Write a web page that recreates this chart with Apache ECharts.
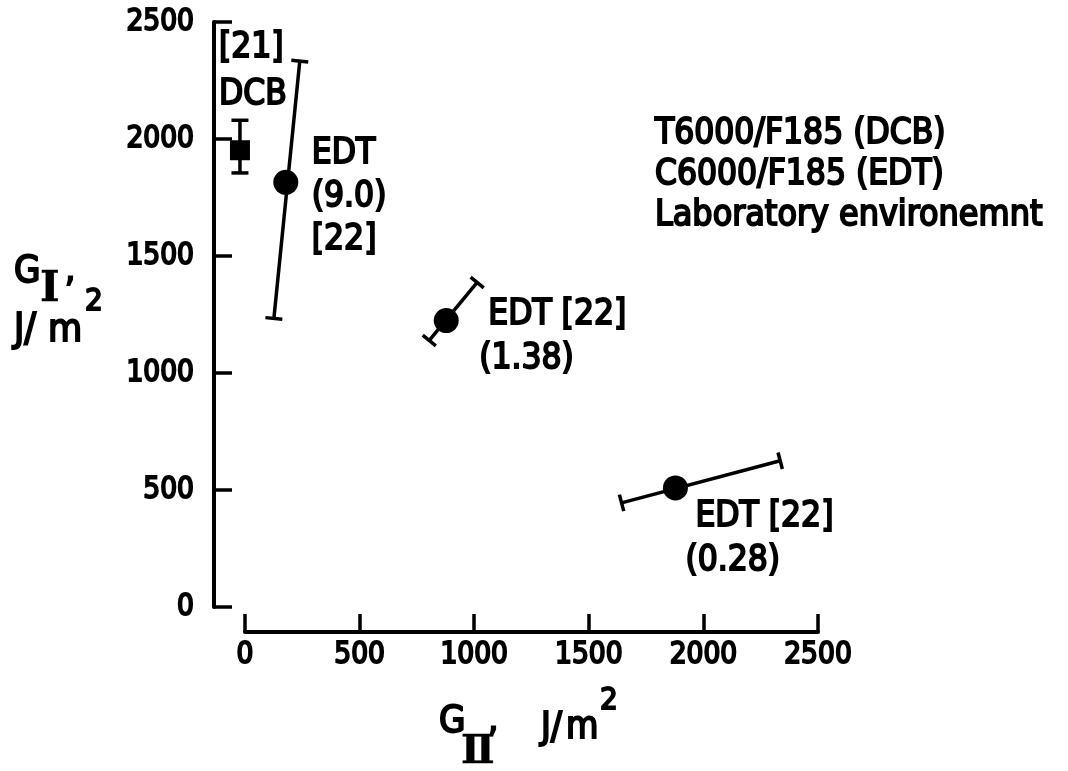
<!DOCTYPE html>
<html><head><meta charset="utf-8">
<script src="https://cdn.jsdelivr.net/npm/echarts@6/dist/echarts.min.js"></script>
<style>html,body{margin:0;padding:0;background:#fff}#c{width:1068px;height:771px}</style>
</head><body><div id="c"></div>
<script>
// ---- data ----
const pointNames = ['DCB [21]', 'EDT (9.0) [22]', 'EDT (1.38) [22]', 'EDT (0.28) [22]'];
const labelLines = [['[21]', 'DCB'], ['EDT', '(9.0)', '[22]'], ['EDT [22]', '(1.38)'], ['EDT [22]', '(0.28)']];
const markerShapes = ['rect', 'circle', 'circle', 'circle'];
const giiValues = [-22, 178, 878, 1878];      // G_II, J/m^2
const giValues = [1952, 1815, 1224, 509];     // G_I, J/m^2
const errLowGII = [-22, 126, 804, 1643];
const errLowGI = [1855, 1233, 1139, 445];
const errHighGII = [-22, 239, 1013, 2335];
const errHighGI = [2080, 2333, 1387, 625];
const axisTickValues = [0, 500, 1000, 1500, 2000, 2500];
const noteLines = ['T6000/F185 (DCB)', 'C6000/F185 (EDT)', 'Laboratory environemnt'];

// ---- styling (not data) ----
const TXT = 'DejaVu Sans Condensed';
const SERIF = 'DejaVu Serif';
const labelStyles = [
  {offset: [-21, -126], lineHeight: 47, pad: [0, 0]},
  {offset: [26, -50], lineHeight: 43, pad: [0, 0, 0]},
  {offset: [33, -28], lineHeight: 44, pad: [9, 0]},
  {offset: [10, 7], lineHeight: 44, pad: [10, 0]}
];
const BORDER = 1.9;

const chart = echarts.init(document.getElementById('c'), null, {renderer: 'canvas'});

const scatterData = giiValues.map((x, i) => {
  const st = labelStyles[i];
  const rich = {};
  const parts = labelLines[i].map((t, k) => {
    rich['l' + k] = {padding: [0, 0, 0, st.pad[k] || 0], lineHeight: st.lineHeight,
      fontFamily: TXT, fontSize: 35, color: '#000', textBorderColor: '#000', textBorderWidth: BORDER};
    return '{l' + k + '|' + t + '}';
  });
  return {
    value: [x, giValues[i]],
    name: pointNames[i],
    symbol: markerShapes[i],
    symbolSize: markerShapes[i] === 'rect' ? 20 : 25,
    label: {
      show: true, position: 'inside', align: 'left', verticalAlign: 'top',
      offset: st.offset, formatter: parts.join('\n'), rich: rich,
      lineHeight: st.lineHeight
    }
  };
});

const errData = giiValues.map((_, i) => [errLowGII[i], errLowGI[i], errHighGII[i], errHighGI[i]]);

function renderErr(params, api) {
  const p0 = api.coord([api.value(0), api.value(1)]);
  const p1 = api.coord([api.value(2), api.value(3)]);
  const dx = p1[0] - p0[0], dy = p1[1] - p0[1];
  const len = Math.sqrt(dx * dx + dy * dy) || 1;
  const nx = -dy / len, ny = dx / len, h = 8.5;
  const st = {stroke: '#000', lineWidth: 3.5, lineCap: 'butt'};
  return {
    type: 'group',
    children: [
      {type: 'line', shape: {x1: p0[0], y1: p0[1], x2: p1[0], y2: p1[1]}, style: st},
      {type: 'line', shape: {x1: p0[0] - nx * h, y1: p0[1] - ny * h, x2: p0[0] + nx * h, y2: p0[1] + ny * h}, style: st},
      {type: 'line', shape: {x1: p1[0] - nx * h, y1: p1[1] - ny * h, x2: p1[0] + nx * h, y2: p1[1] + ny * h}, style: st}
    ]
  };
}

function txt(text, x, y, size, family, weight, border) {
  return {
    type: 'text', x: x, y: y, silent: true,
    style: {text: text, fontFamily: family || TXT, fontSize: size, fontWeight: weight || 'normal',
      fill: '#000', stroke: '#000', lineWidth: border == null ? BORDER : border,
      align: 'left', verticalAlign: 'middle', textAlign: 'left', textVerticalAlign: 'middle'}
  };
}

const axisCommon = {
  type: 'value', min: axisTickValues[0], max: axisTickValues[axisTickValues.length - 1], interval: 500,
  splitLine: {show: false},
  axisLine: {show: true, onZero: false, lineStyle: {color: '#000', width: 4}},
  axisTick: {show: true, inside: true, length: 18, lineStyle: {color: '#000', width: 3.5}},
  axisLabel: {fontFamily: TXT, fontSize: 29.5, color: '#000', textBorderColor: '#000', textBorderWidth: BORDER,
    formatter: v => String(v)}
};

chart.setOption({
  animation: false,
  backgroundColor: '#fff',
  grid: {left: 245, right: 250, top: 22, bottom: 164, containLabel: false},
  xAxis: Object.assign({}, axisCommon, {position: 'bottom', offset: 25,
    axisLabel: Object.assign({}, axisCommon.axisLabel, {margin: 8})}),
  yAxis: Object.assign({}, axisCommon, {position: 'left', offset: 31,
    axisLabel: Object.assign({}, axisCommon.axisLabel, {margin: 20})}),
  series: [
    {type: 'custom', renderItem: renderErr, data: errData, clip: false, z: 2,
      encode: {x: [0, 2], y: [1, 3]}},
    {type: 'scatter', data: scatterData, clip: false, z: 3,
      itemStyle: {color: '#000', opacity: 1}}
  ],
  graphic: [
    txt(noteLines[0], 655, 134, 35),
    txt(noteLines[1], 655, 175, 35),
    txt(noteLines[2], 655, 216, 35.5),
    // y axis title: G_I, J/m^2
    txt('G', 14, 272, 38),
    txt('\u2160', 40, 290, 42, SERIF, 'bold', 0.5),
    txt(',', 65, 272, 36),
    txt('J/', 14, 331, 39),
    txt('m', 48, 331, 39),
    txt('2', 85, 302, 31),
    // x axis title: G_II, J/m^2
    txt('G', 439, 722, 38),
    txt('\u2161', 461, 753, 40, SERIF, 'bold', 0.5),
    txt(',', 488, 722, 36),
    txt('J/', 541, 728, 37),
    txt('m', 566, 728, 37),
    txt('2', 600, 701, 31)
  ]
});
</script>
</body></html>
